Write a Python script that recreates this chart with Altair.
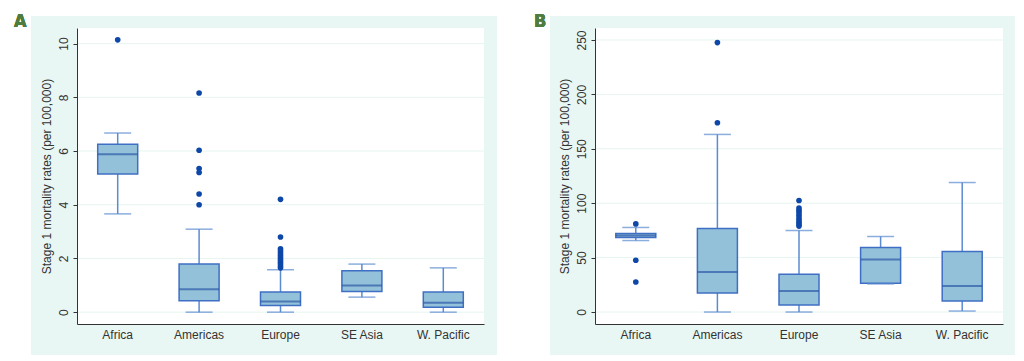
import altair as alt
import pandas as pd

regions = ["Africa", "Americas", "Europe", "SE Asia", "W. Pacific"]

# Panel A: summary statistics (low whisker, Q1, median, Q3, high whisker)
a_low = [3.66, 0.0, 0.0, 0.56, 0.0]
a_q1 = [5.14, 0.43, 0.25, 0.77, 0.18]
a_med = [5.88, 0.85, 0.40, 0.99, 0.35]
a_q3 = [6.25, 1.79, 0.75, 1.54, 0.75]
a_high = [6.67, 3.09, 1.58, 1.79, 1.65]
a_out_region = ["Africa", "Americas", "Americas", "Americas", "Americas", "Americas", "Americas",
                "Europe", "Europe", "Europe", "Europe", "Europe", "Europe", "Europe",
                "Europe", "Europe", "Europe", "Europe", "Europe"]
a_out_value = [10.14, 8.16, 6.03, 5.35, 5.20, 4.40, 4.00,
               4.20, 2.80, 2.36, 2.28, 2.20, 2.12, 2.04, 1.96, 1.88, 1.80, 1.72, 1.65]
a_ticks = [0, 2, 4, 6, 8, 10]

# Panel B
b_low = [65.7, 0.0, 0.0, 25.8, 0.9]
b_q1 = [68.5, 17.5, 6.4, 26.4, 10.1]
b_med = [70.3, 36.8, 19.3, 48.2, 23.9]
b_q3 = [72.1, 76.7, 34.7, 59.2, 55.6]
b_high = [77.7, 163.2, 74.9, 69.4, 119.0]
b_out_region = ["Africa", "Africa", "Africa", "Americas", "Americas",
                "Europe", "Europe", "Europe", "Europe", "Europe", "Europe",
                "Europe", "Europe", "Europe", "Europe"]
b_out_value = [81.0, 47.6, 27.6, 247.6, 173.9,
               102.5, 95.5, 93.5, 91.5, 89.0, 86.5, 84.5, 82.5, 80.5, 79.0]
b_ticks = [0, 50, 100, 150, 200, 250]

YTITLE = "Stage 1 mortality rates (per 100,000)"
FONT = "Liberation Sans"
MINT = "#e9f7f4"
BOX_FILL = "#93c1d9"
BOX_STROKE = "#3f6fc4"
MEDIAN = "#2c5aa8"
WHISKER = "#5b8bd0"
OUTLIER = "#0d47a8"


def panel(letter, low, q1, med, q3, high, out_r, out_v, ticks, domain, w, h, left_off, right_off, letter_off):
    stats = pd.DataFrame({"region": regions, "low": low, "q1": q1, "med": med, "q3": q3, "high": high})
    outs = pd.DataFrame({"region": out_r, "value": out_v})
    grid = pd.DataFrame({"t": ticks})

    xenc = alt.X("region:N", sort=regions, title=None,
                 scale=alt.Scale(domain=regions, paddingInner=0, paddingOuter=0),
                 axis=alt.Axis(labelAngle=0, ticks=False, domainColor="#333333", domainWidth=1,
                               labelFontSize=12, labelColor="#333333", labelFont=FONT,
                               labelPadding=5, zindex=1))
    yscale = alt.Scale(domain=domain, nice=False, zero=False)
    yaxis = alt.Axis(values=ticks, labelAngle=270, labelAlign="center", labelBaseline="bottom",
                     tickSize=4, tickColor="#333333", labelPadding=3, labelFontSize=12,
                     labelColor="#333333", labelFont=FONT, domainColor="#333333", domainWidth=1,
                     grid=False, title=YTITLE, titleFontSize=12, titleFontWeight="normal",
                     titleColor="#333333", titleFont=FONT, titlePadding=4, zindex=1)

    base = alt.Chart(stats)
    mint = base.mark_rect(fill=MINT).encode(
        x=alt.value(left_off), x2=alt.value(w + right_off),
        y=alt.value(-12), y2=alt.value(h + 31))
    white = base.mark_rect(fill="white").encode(
        x=alt.value(0), x2=alt.value(w), y=alt.value(0), y2=alt.value(h))
    gridl = alt.Chart(grid).mark_rule(color="#e6f5f1", strokeWidth=1).encode(
        y=alt.Y("t:Q", scale=yscale, axis=yaxis))
    whisk = base.mark_rule(color=WHISKER, strokeWidth=1.5).encode(
        x=xenc, y=alt.Y("low:Q", scale=yscale, axis=yaxis), y2="high:Q")
    box = base.mark_bar(size=40, fill=BOX_FILL, stroke=BOX_STROKE, strokeWidth=1.5).encode(
        x=xenc, y=alt.Y("q1:Q", scale=yscale, axis=yaxis), y2="q3:Q")
    medt = base.mark_tick(size=40, thickness=2, color=MEDIAN).encode(
        x=xenc, y=alt.Y("med:Q", scale=yscale, axis=yaxis))
    caplo = base.mark_tick(size=27, thickness=1.5, color=WHISKER).encode(
        x=xenc, y=alt.Y("low:Q", scale=yscale, axis=yaxis))
    caphi = base.mark_tick(size=27, thickness=1.5, color=WHISKER).encode(
        x=xenc, y=alt.Y("high:Q", scale=yscale, axis=yaxis))
    pts = alt.Chart(outs).mark_circle(size=32, color=OUTLIER, opacity=1).encode(
        x=xenc, y=alt.Y("value:Q", scale=yscale, axis=yaxis))
    lab = base.mark_text(text=letter, font="DejaVu Sans Condensed, DejaVu Sans, sans-serif",
                         fontSize=18, fontWeight="bold",
                         color="#4f7c3f", align="left", baseline="top").encode(
        x=alt.value(letter_off), y=alt.value(-15))

    return alt.layer(mint, white, gridl, whisk, box, medt, caplo, caphi, pts, lab).properties(
        width=w, height=h)


pa = panel("A", a_low, a_q1, a_med, a_q3, a_high, a_out_region, a_out_value, a_ticks,
           [-0.44, 10.58], 407, 296, -46, 13, -63)
pb = panel("B", b_low, b_q1, b_med, b_q3, b_high, b_out_region, b_out_value, b_ticks,
           [-11, 261], 408, 296, -45, 12, -61)

chart = alt.hconcat(pa, pb, spacing=35).properties(
    padding={"left": 5, "top": 4, "right": 0, "bottom": 0}
).configure_view(stroke=None).configure(background="white")

chart.save("out.html", embed_options={"renderer": "svg", "actions": False})
